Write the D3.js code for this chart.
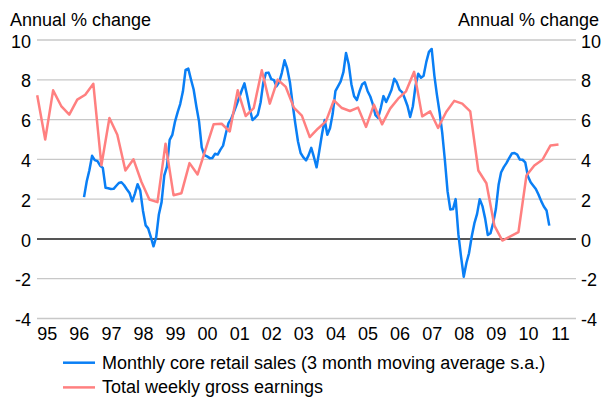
<!DOCTYPE html>
<html>
<head>
<meta charset="utf-8">
<script src="https://cdn.jsdelivr.net/npm/d3@7"></script>
<style>
  body { margin: 0; background: #fff; }
  svg text { font-family: "Liberation Sans", Arial, sans-serif; fill: #000; }
</style>
</head>
<body>
<svg id="chart" width="602" height="401"></svg>
<script>
// monthly core retail sales, 3mma s.a., annual % change, Mar 1996 .. Sep 2010
var retailStart = [1996, 2];
var retailValues = [
  2.1, 2.9, 3.45, 4.18, 3.96, 3.91, 3.68, 3.57, 2.57, 2.55, 2.51, 2.52,
  2.66, 2.81, 2.85, 2.7, 2.5, 2.31, 1.89, 2.28, 2.75, 2.43, 1.42, 0.68,
  0.53, 0.09, -0.37, 0.1, 1.23, 1.85, 3.2, 3.64, 4.98, 5.23, 5.9, 6.39,
  6.78, 7.42, 8.5, 8.56, 8.03, 7.51, 6.66, 5.92, 4.6, 4.21, 4.15, 4.06,
  4.07, 4.28, 4.24, 4.49, 4.69, 5.29, 5.82, 6.03, 6.38, 6.73, 7.11, 7.5,
  7.82, 7.2, 6.54, 5.98, 6.09, 6.25, 6.86, 7.83, 8.34, 8.36, 8.03, 7.98,
  7.67, 7.88, 8.35, 8.98, 8.57, 7.88, 6.77, 5.81, 4.9, 4.32, 4.1, 3.95,
  4.2, 4.58, 4.12, 3.6, 4.41, 5.26, 5.98, 5.24, 5.57, 6.29, 7.43, 7.68,
  7.92, 8.38, 9.35, 8.77, 7.78, 7.17, 6.98, 7.41, 7.78, 7.87, 7.44, 7.16,
  6.79, 6.22, 6.08, 6.59, 7.18, 6.88, 7.18, 7.5, 8.05, 7.86, 7.49, 7.37,
  7.06, 6.68, 6.13, 6.67, 7.7, 8.3, 8.1, 8.2, 8.9, 9.4, 9.55, 8.2,
  7.27, 6.37, 5.34, 3.93, 2.39, 1.48, 1.5, 2.0, 0.24, -0.88, -1.9, -1.2,
  -0.72, 0.12, 0.78, 1.26, 2.0, 1.65, 1.02, 0.2, 0.29, 0.8, 1.5, 2.72,
  3.34, 3.61, 3.81, 4.06, 4.29, 4.32, 4.24, 3.99, 3.98, 3.85, 3.15, 2.85,
  2.69, 2.51, 2.23, 1.9, 1.63, 1.43, 0.67
];

// total weekly gross earnings, quarterly, Sep 1994 .. Dec 2010
var earningsStart = [1994, 8];
var earningsValues = [
  7.22, 5.0, 7.47, 6.68, 6.25, 7.0, 7.25, 7.8, 3.7, 6.08, 5.24, 3.44,
  4.0, 2.86, 1.98, 1.85, 4.79, 2.2, 2.3, 3.81, 3.24, 4.5, 5.76, 5.79,
  5.4, 7.47, 6.18, 6.58, 8.48, 6.8, 8.01, 7.64, 6.6, 6.2, 5.12, 5.54,
  5.91, 6.97, 6.58, 6.43, 6.6, 5.63, 6.75, 5.76, 6.55, 7.05, 7.42, 8.4,
  6.16, 6.41, 5.58, 6.38, 6.94, 6.8, 6.41, 3.44, 2.8, 0.67, -0.08, 0.13,
  0.34, 3.19, 3.69, 3.98, 4.7, 4.75
];

var yTicks = [-4, -2, 0, 2, 4, 6, 8, 10];
var yearTicks = d3.range(1995, 2012);
var seriesNames = [
  "Monthly core retail sales (3 month moving average s.a.)",
  "Total weekly gross earnings"
];
var seriesColors = ["#0a7ff5", "#ff8080"];

var retail = retailValues.map((v, i) => ({ date: new Date(retailStart[0], retailStart[1] + i, 1), value: v }));
var earnings = earningsValues.map((v, i) => ({ date: new Date(earningsStart[0], earningsStart[1] + 3 * i, 15), value: v }));

var svg = d3.select("#chart");
var plotLeft = 37, plotRight = 576;

// Jan 1995 sits at 46.7px, Jan 2011 at 560px
var x = d3.scaleTime()
  .domain([new Date(1995, 0, 1), new Date(2011, 0, 1)])
  .range([46.7, 560]);
var y = d3.scaleLinear().domain([-4, 10]).range([318.5, 40]);

// gridlines
svg.append("g")
  .selectAll("line")
  .data(yTicks.filter(d => d !== 0))
  .enter()
  .append("line")
  .attr("x1", plotLeft).attr("x2", plotRight)
  .attr("y1", d => y(d)).attr("y2", d => y(d))
  .style("stroke", "#c8c8c8")
  .style("stroke-width", 1.3);

// y axes (labels only), plain hyphen for negatives
var leftAxis = d3.axisLeft(y).tickValues(yTicks).tickFormat(d => String(d)).tickSize(0).tickPadding(6);
var rightAxis = d3.axisRight(y).tickValues(yTicks).tickFormat(d => String(d)).tickSize(0).tickPadding(5);

svg.append("g")
  .attr("transform", `translate(${plotLeft},0)`)
  .call(leftAxis)
  .call(g => g.select(".domain").remove())
  .selectAll("text")
  .style("font-size", "18px")
  .attr("dy", "0.4em");

svg.append("g")
  .attr("transform", `translate(${plotRight},0)`)
  .call(rightAxis)
  .call(g => g.select(".domain").remove())
  .selectAll("text")
  .style("font-size", "18px")
  .attr("dy", "0.4em");

// x axis, two digit years
var xAxis = d3.axisBottom(x)
  .tickValues(yearTicks.map(yr => new Date(yr, 0, 1)))
  .tickFormat(d3.timeFormat("%y"))
  .tickSize(0)
  .tickPadding(6);

svg.append("g")
  .attr("transform", `translate(0,${y(-4)})`)
  .call(xAxis)
  .call(g => g.select(".domain").remove())
  .selectAll("text")
  .style("font-size", "18px")
  .attr("dy", "0.88em");

// zero line
svg.append("line")
  .attr("x1", plotLeft).attr("x2", plotRight)
  .attr("y1", y(0)).attr("y2", y(0))
  .style("stroke", "#555")
  .style("stroke-width", 2);

var line = d3.line()
  .x(d => x(d.date))
  .y(d => y(d.value));

svg.append("path")
  .datum(retail)
  .attr("d", line)
  .style("fill", "none")
  .style("stroke", seriesColors[0])
  .style("stroke-width", 2.5)
  .style("stroke-linejoin", "round");

svg.append("path")
  .datum(earnings)
  .attr("d", line)
  .style("fill", "none")
  .style("stroke", seriesColors[1])
  .style("stroke-width", 2.5)
  .style("stroke-linejoin", "round");

// axis titles
svg.append("text")
  .attr("x", 10).attr("y", 26)
  .style("font-size", "18px")
  .text("Annual % change");

svg.append("text")
  .attr("x", 599).attr("y", 26)
  .attr("text-anchor", "end")
  .style("font-size", "18px")
  .text("Annual % change");

// legend
var legend = svg.append("g")
  .selectAll("g")
  .data(seriesNames)
  .enter()
  .append("g")
  .attr("transform", (d, i) => `translate(63,${362.7 + i * 24.7})`);

legend.append("line")
  .attr("x1", 0).attr("x2", 32)
  .style("stroke", (d, i) => seriesColors[i])
  .style("stroke-width", 2.5);

legend.append("text")
  .attr("x", 39).attr("y", 6)
  .style("font-size", "18px")
  .text(d => d);
</script>
</body>
</html>
